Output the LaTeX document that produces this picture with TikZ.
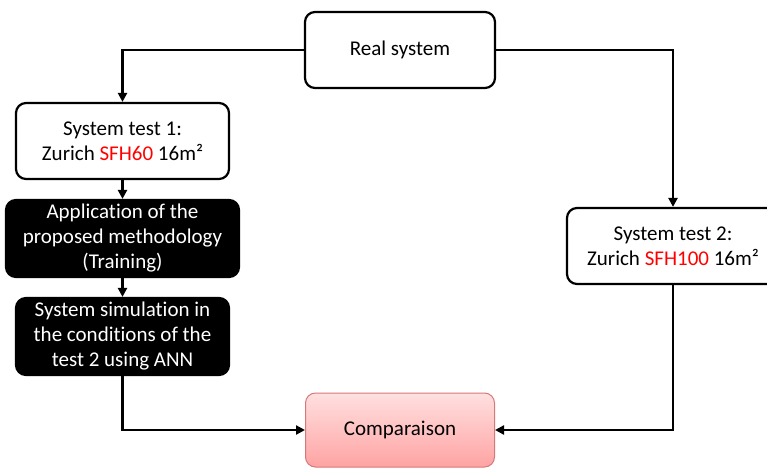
\documentclass[tikz,border=0pt]{standalone}
\usepackage{fontspec}
\setmainfont{Carlito}[Ligatures=NoCommon]
\usetikzlibrary{arrows.meta,positioning}
\definecolor{hot}{RGB}{255,0,0}
\definecolor{cmptop}{RGB}{255,224,224}
\definecolor{cmpbot}{RGB}{255,163,163}
\definecolor{cmpline}{RGB}{214,120,120}
\tikzset{
  box/.style={draw=black, line width=2.2pt, rounded corners=10pt, align=center,
    font=\fontsize{21}{25}\selectfont, inner sep=0pt},
  darkbox/.style={box, fill=black, text=white},
  cmpbox/.style={box, draw=cmpline, line width=1pt, top color=cmptop, bottom color=cmpbot},
  link/.style={line width=2.4pt, -{Triangle[length=9pt,width=9pt]}},
}
\begin{document}
\begin{tikzpicture}[x=1pt,y=-1pt]
\useasboundingbox (0,0) rectangle (767,469);
\clip (0,0) rectangle (767,469);
\fill[white] (0,0) rectangle (767,469);

\node[box, minimum width=190pt, minimum height=76pt] (real) at (400,50) {Real system};
\node[box, minimum width=213pt, minimum height=76pt] (t1) at (122.5,141)
  {System test 1:\\Zurich \textcolor{hot}{SFH60} 16m²};
\node[darkbox, minimum width=233pt, minimum height=77pt] (app) at (122.5,238.5)
  {Application of the\\proposed methodology\\(Training)};
\node[darkbox, minimum width=213pt, minimum height=77pt] (sim) at (122.5,336.5)
  {System simulation in\\the conditions of the\\test 2 using ANN};
\node[box, minimum width=212pt, minimum height=76pt] (t2) at (673,246)
  {System test 2:\\Zurich \textcolor{hot}{SFH100} 16m²};
\node[cmpbox, minimum width=189pt, minimum height=74pt] (cmp) at (400,430) {Comparaison};

\draw[link] (real.west) -| (t1.north);
\draw[link] (real.east) -| (t2.north);
\draw[link] (t1.south) -- (app.north);
\draw[link] (app.south) -- (sim.north);
\draw[link] (sim.south) |- (cmp.west);
\draw[link] (t2.south) |- (cmp.east);
\end{tikzpicture}
\end{document}
